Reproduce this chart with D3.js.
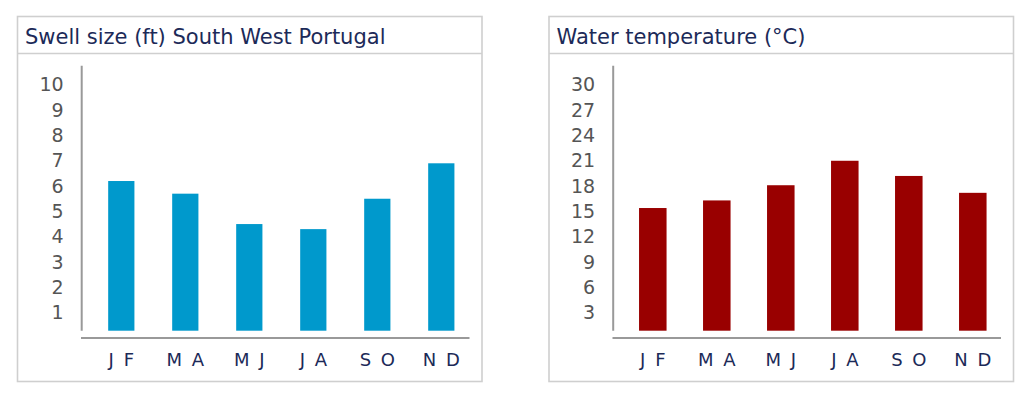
<!DOCTYPE html>
<html>
<head>
<meta charset="utf-8">
<script src="https://cdn.jsdelivr.net/npm/d3@7"></script>
<style>
  html, body { margin: 0; padding: 0; background: #ffffff; }
  svg { display: block; }
  text { font-family: "DejaVu Sans", Verdana, sans-serif; }
</style>
</head>
<body>
<svg id="chart" width="1024" height="398"></svg>
<script>
// ---- Data ----
const categories = ["J F", "M A", "M J", "J A", "S O", "N D"];
const swellValues = [6.2, 5.7, 4.5, 4.3, 5.5, 6.9];
const tempValues = [15.4, 16.3, 18.1, 21.0, 19.2, 17.2];
const swellTicks = [1, 2, 3, 4, 5, 6, 7, 8, 9, 10];
const tempTicks = [3, 6, 9, 12, 15, 18, 21, 24, 27, 30];
const swellTitle = "Swell size (ft) South West Portugal";
const tempTitle = "Water temperature (°C)";

// ---- Drawing ----
const svg = d3.select("#chart");

function panel(offsetX, title, values, ticks, color, barFrac) {
  const g = svg.append("g").attr("transform", `translate(${offsetX},0)`);

  // frame
  g.append("rect")
    .attr("x", 17.5).attr("y", 16.5)
    .attr("width", 464.5).attr("height", 365)
    .attr("fill", "#ffffff")
    .attr("stroke", "#cfcfcf").attr("stroke-width", 1.6);
  g.append("line")
    .attr("x1", 17.5).attr("x2", 482)
    .attr("y1", 53.5).attr("y2", 53.5)
    .attr("stroke", "#cfcfcf").attr("stroke-width", 1.6);

  g.append("text")
    .attr("x", 25).attr("y", 44)
    .attr("font-size", 21)
    .attr("fill", "#1c2a58")
    .text(title);

  const y = d3.scaleLinear()
    .domain([0, d3.max(ticks)])
    .range([338, 84.8]);

  const x = d3.scaleBand()
    .domain(categories)
    .range([89.3, 473.3])
    .padding(0);

  // y axis labels
  const yAxis = d3.axisLeft(y)
    .tickValues(ticks)
    .tickSize(0)
    .tickPadding(18)
    .tickFormat(d3.format("d"));
  const ya = g.append("g")
    .attr("transform", "translate(81.7,0)")
    .call(yAxis);
  ya.select(".domain").remove();
  ya.selectAll("text")
    .attr("font-size", 19)
    .attr("font-family", "DejaVu Sans, Verdana, sans-serif")
    .attr("fill", "#555555");

  // axis lines
  g.append("line")
    .attr("x1", 81.7).attr("x2", 81.7)
    .attr("y1", 65.7).attr("y2", y(0) - 7.3)
    .attr("stroke", "#999999").attr("stroke-width", 2);
  g.append("line")
    .attr("x1", 81).attr("x2", 469.5)
    .attr("y1", y(0)).attr("y2", y(0))
    .attr("stroke", "#999999").attr("stroke-width", 2);

  // bars
  const bw = x.bandwidth() * barFrac;
  const base = y(0) - 7.3;
  g.append("g").selectAll("rect")
    .data(values)
    .join("rect")
    .attr("x", (d, i) => x(categories[i]) + x.bandwidth() / 2 - bw / 2)
    .attr("y", d => y(d))
    .attr("width", bw)
    .attr("height", d => base - y(d))
    .attr("fill", color);

  // x labels
  const xAxis = d3.axisBottom(x).tickSize(0).tickPadding(0);
  const xa = g.append("g")
    .attr("transform", `translate(1,${y(0)})`)
    .call(xAxis);
  xa.select(".domain").remove();
  xa.selectAll("text")
    .attr("y", 22)
    .attr("dy", "0.35em")
    .attr("font-size", 18)
    .attr("letter-spacing", 2)
    .attr("font-family", "DejaVu Sans, Verdana, sans-serif")
    .attr("fill", "#1c2a58");
}

panel(0, swellTitle, swellValues, swellTicks, "#0099cc", 0.41);
panel(531.5, tempTitle, tempValues, tempTicks, "#990000", 0.43);
</script>
</body>
</html>
